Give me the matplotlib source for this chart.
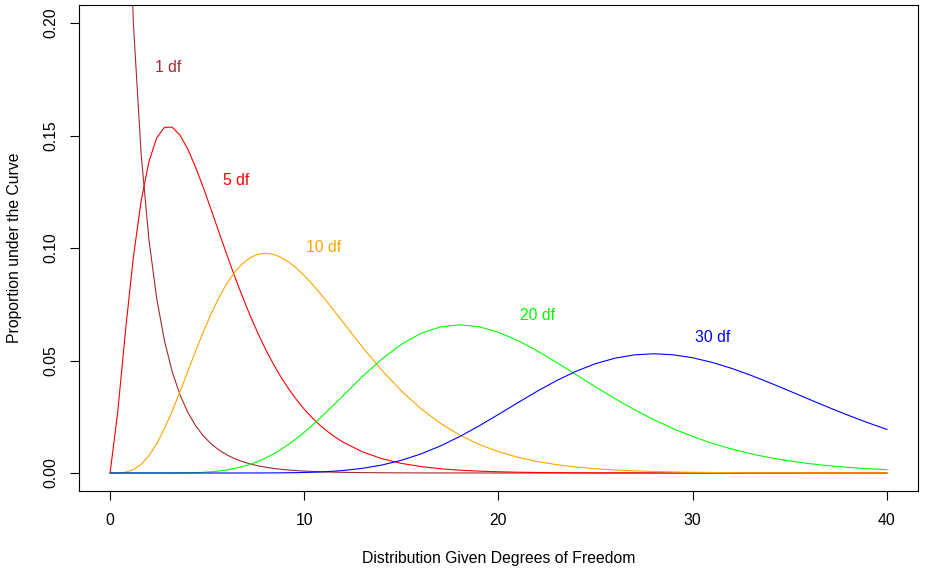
import numpy as np
import matplotlib
matplotlib.use("Agg")
import matplotlib.pyplot as plt

plt.rcParams['font.family'] = ['Liberation Sans', 'DejaVu Sans']

# sample points along the x axis (fine near the origin)
x_vals = [0, 0.4, 0.8, 1.2, 1.6, 2.0, 2.4, 2.8, 3.2, 3.6, 4.0, 4.4, 4.8, 5.2, 5.6,
          6.0, 6.4, 6.8, 7.2, 7.6, 8.0, 8.4, 8.8, 9.2, 9.6, 10.0, 10.4, 10.8, 11.2,
          11.6, 12.0, 13, 14, 15, 16, 17, 18, 19, 20, 21, 22, 23, 24, 25, 26, 27,
          28, 29, 30, 31, 32, 33, 34, 35, 36, 37, 38, 39, 40]

df1 = [np.nan, 0.51644, 0.29898, 0.19987, 0.14171, 0.10378, 0.07756, 0.05879, 0.04503,
       0.03476, 0.02700, 0.02107, 0.01652, 0.01299, 0.01025, 0.00811, 0.00643, 0.00511,
       0.00406, 0.00324, 0.00258, 0.00206, 0.00165, 0.00132, 0.00106, 0.00085, 0.00068,
       0.00055, 0.00044, 0.00035, 0.00029, 0.00017, 0.00010, 0.00006, 0.00003, 0.00002,
       0.00001, 0.00001, 0, 0, 0, 0, 0, 0, 0, 0, 0, 0, 0, 0, 0, 0, 0, 0, 0, 0, 0, 0, 0]

df5 = [0, 0.02754, 0.06378, 0.09594, 0.12093, 0.13837, 0.14892, 0.15364, 0.15369,
       0.15015, 0.14398, 0.13599, 0.12687, 0.11712, 0.10716, 0.09730, 0.08776, 0.07870,
       0.07020, 0.06233, 0.05511, 0.04855, 0.04262, 0.03730, 0.03255, 0.02834, 0.02461,
       0.02132, 0.01843, 0.01591, 0.01370, 0.00937, 0.00635, 0.00427, 0.00286, 0.00190,
       0.00125, 0.00082, 0.00054, 0.00035, 0.00023, 0.00015, 0.00010, 0.00006, 0.00004,
       0.00003, 0.00002, 0.00001, 0.00001, 0, 0, 0, 0, 0, 0, 0, 0, 0, 0]

df10 = [0, 0.00003, 0.00036, 0.00148, 0.00383, 0.00766, 0.01301, 0.01974, 0.02757,
        0.03615, 0.04511, 0.05408, 0.06270, 0.07071, 0.07787, 0.08402, 0.08905, 0.09291,
        0.09561, 0.09718, 0.09768, 0.09721, 0.09587, 0.09376, 0.09101, 0.08773, 0.08403,
        0.08001, 0.07576, 0.07138, 0.06693, 0.05591, 0.04561, 0.03646, 0.02863, 0.02213,
        0.01687, 0.01270, 0.00946, 0.00697, 0.00509, 0.00369, 0.00265, 0.00190, 0.00134,
        0.00095, 0.00067, 0.00046, 0.00032, 0.00022, 0.00015, 0.00011, 0.00007, 0.00005,
        0.00003, 0.00002, 0.00002, 0.00001, 0.00001]

df20 = [0, 0, 0, 0, 0, 0, 0, 0, 0.00002, 0.00005, 0.00010, 0.00018, 0.00033, 0.00056,
        0.00089, 0.00135, 0.00198, 0.00279, 0.00382, 0.00509, 0.00662, 0.00840, 0.01046,
        0.01277, 0.01534, 0.01813, 0.02113, 0.02430, 0.02760, 0.03098, 0.03442, 0.04291,
        0.05070, 0.05722, 0.06204, 0.06493, 0.06588, 0.06500, 0.06255, 0.05886, 0.05426,
        0.04910, 0.04368, 0.03826, 0.03303, 0.02813, 0.02367, 0.01969, 0.01620, 0.01320,
        0.01066, 0.00852, 0.00676, 0.00533, 0.00416, 0.00323, 0.00249, 0.00191, 0.00145]

df30 = [0, 0, 0, 0, 0, 0, 0, 0, 0, 0, 0, 0, 0, 0, 0, 0, 0, 0.00001, 0.00001, 0.00002,
        0.00003, 0.00005, 0.00007, 0.00011, 0.00016, 0.00024, 0.00033, 0.00046, 0.00063,
        0.00085, 0.00111, 0.00207, 0.00355, 0.00565, 0.00846, 0.01199, 0.01619, 0.02094,
        0.02604, 0.03127, 0.03638, 0.04111, 0.04524, 0.04860, 0.05104, 0.05251, 0.05300,
        0.05253, 0.05122, 0.04916, 0.04651, 0.04340, 0.03998, 0.03639, 0.03274, 0.02914,
        0.02568, 0.02240, 0.01937]

series = [df1, df5, df10, df20, df30]
colors = ['#A52A2A', '#FF0000', '#FFA500', '#00FF00', '#0000FF']

label_text = ['1 df', '5 df', '10 df', '20 df', '30 df']
label_x = [3, 6.5, 11, 22, 31]
label_y = [0.18, 0.13, 0.10, 0.07, 0.06]

x_ticks = [0, 10, 20, 30, 40]
y_ticks = [0.00, 0.05, 0.10, 0.15, 0.20]

fs = 11.3

fig = plt.figure(figsize=(9.26, 5.72), dpi=100)
ax = fig.add_axes([79 / 926, 81 / 572, (918 - 79) / 926, (491 - 5) / 572])

for ys, c in zip(series, colors):
    ax.plot(x_vals, ys, color=c, lw=0.8)

for t, lx, ly, c in zip(label_text, label_x, label_y, colors):
    ax.text(lx, ly, t, color=c, fontsize=fs, ha='center', va='center')

ax.set_xlim(-1.6, 41.6)
ax.set_ylim(-0.008, 0.208)
ax.set_xticks(x_ticks)
ax.set_xticklabels([str(v) for v in x_ticks])
ax.set_yticks(y_ticks)
ax.set_yticklabels(['%.2f' % v for v in y_ticks], rotation=90, va='center')
ax.tick_params(direction='out', length=6.5, width=0.8, labelsize=fs)
ax.tick_params(axis='x', pad=9)
ax.tick_params(axis='y', pad=8)
for s in ax.spines.values():
    s.set_linewidth(0.8)

ax.set_xlabel('Distribution Given Degrees of Freedom', fontsize=fs, labelpad=17)
ax.set_ylabel('Proportion under the Curve', fontsize=fs, labelpad=16)

fig.savefig('out.png', dpi=100)
